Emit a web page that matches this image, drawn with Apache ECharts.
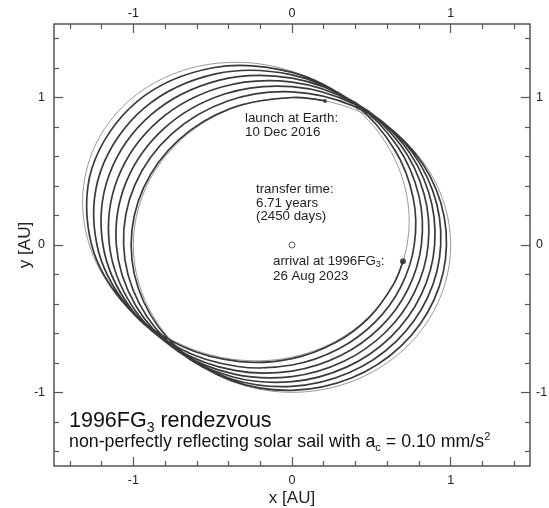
<!DOCTYPE html>
<html><head><meta charset="utf-8">
<script src="https://cdn.jsdelivr.net/npm/echarts@6/dist/echarts.min.js"></script>
<style>html,body{margin:0;padding:0;background:#fff}#c{width:549px;height:508px}</style>
</head><body><div id="c"></div>
<script>
// ---- data (AU) ----
const majorTicks = [-1, 0, 1];
const minorTicks = [-1.4, -1.2, -0.8, -0.6, -0.4, -0.2, 0.2, 0.4, 0.6, 0.8, 1.2, 1.4];

// spiral transfer trajectory
const trajX = [0.2079, 0, -0.3846, -0.7138, -0.9357, -1.0138, -0.9344, -0.7109, -0.3814, 0, 0.3741, 0.6868, 0.8957, 0.9735, 0.9088, 0.7066, 0.3899,
  0, -0.4048, -0.7561, -0.9895, -1.0614, -0.9623, -0.7176, -0.3773, 0, 0.3591, 0.6553, 0.8557, 0.9374, 0.8872, 0.7024, 0.3955,
  0, -0.4246, -0.7989, -1.0435, -1.1072, -0.9863, -0.7205, -0.3712, 0, 0.3434, 0.6233, 0.8146, 0.8989, 0.8618, 0.6944, 0.3989,
  0, -0.4441, -0.8423, -1.0978, -1.1508, -1.0060, -0.7192, -0.3632, 0, 0.3270, 0.5906, 0.7726, 0.8582, 0.8328, 0.6825, 0.4001,
  0, -0.4629, -0.8861, -1.1521, -1.1916, -1.0207, -0.7137, -0.3533, 0, 0.3100, 0.5573, 0.7296, 0.8154, 0.8003, 0.6667, 0.3990,
  0, -0.4810, -0.9304, -1.2064, -1.2292, -1.0299, -0.7038, -0.3415, 0, 0.2925, 0.5234, 0.6856, 0.7705, 0.7645, 0.6470, 0.3953,
  0, -0.4982, -0.9751, -1.2605, -1.2628, -1.0331, -0.6893, -0.3279, 0, 0.2743, 0.4889, 0.6407, 0.6994];
const trajY = [0.9781, 1.0013, 0.9286, 0.7138, 0.3876, 0, -0.3870, -0.7109, -0.9208, -0.9867, -0.9032, -0.6868, -0.3710, 0, 0.3764, 0.7066, 0.9414,
  1.0396, 0.9773, 0.7561, 0.4099, 0, -0.3986, -0.7176, -0.9108, -0.9590, -0.8669, -0.6553, -0.3544, 0, 0.3675, 0.7024, 0.9547,
  1.0747, 1.0252, 0.7989, 0.4322, 0, -0.4086, -0.7205, -0.8961, -0.9277, -0.8290, -0.6233, -0.3374, 0, 0.3570, 0.6944, 0.9630,
  1.1059, 1.0720, 0.8423, 0.4547, 0, -0.4167, -0.7192, -0.8767, -0.8932, -0.7895, -0.5906, -0.3200, 0, 0.3450, 0.6825, 0.9660,
  1.1329, 1.1175, 0.8861, 0.4772, 0, -0.4228, -0.7137, -0.8528, -0.8555, -0.7485, -0.5573, -0.3022, 0, 0.3315, 0.6667, 0.9632,
  1.1549, 1.1613, 0.9304, 0.4997, 0, -0.4266, -0.7038, -0.8245, -0.8147, -0.7060, -0.5234, -0.2840, 0, 0.3167, 0.6470, 0.9543,
  1.1712, 1.2029, 0.9751, 0.5221, 0, -0.4279, -0.6893, -0.7917, -0.7711, -0.6622, -0.4889, -0.2654, -0.1108];

// Earth orbit (closed)
const earthX = [1, 0.8660, 0.5, 0, -0.5, -0.8660, -1, -0.8660, -0.5, 0, 0.5, 0.8660];
const earthY = [0, 0.5, 0.8660, 1, 0.8660, 0.5, 0, -0.5, -0.8660, -1, -0.8660, -0.5];

// 1996FG3 orbit (closed)
const astX = [0.7250, 0.7379, 0.7081, 0.6272, 0.4861, 0.2773, 0, -0.3322, -0.6846, -1.0021, -1.2258, -1.3180, -1.2771, -1.1318, -0.9218, -0.6831, -0.4410, -0.2106, 0, 0.1871, 0.3491, 0.4854, 0.5948, 0.6757];
const astY = [0, 0.1977, 0.4088, 0.6272, 0.8420, 1.0349, 1.1790, 1.2399, 1.1858, 1.0021, 0.7078, 0.3531, 0, -0.3032, -0.5322, -0.6831, -0.7638, -0.7859, -0.7609, -0.6982, -0.6047, -0.4854, -0.3434, -0.1810];

const sunPos = [0, 0];
const launchPos = [0.2079, 0.9781];
const arrivalPos = [0.6994, -0.1108];

// ---- chart ----
const zip = (a, b) => a.map((v, i) => [v, b[i]]);
const FONT = '"Liberation Sans", Arial, sans-serif';
const TICKC = '#555';

function axis(pos, ticks, len, withLabels, margin, extra) {
  return Object.assign({
    type: 'value', min: -1.5, max: 1.5, position: pos,
    axisLine: { show: false, onZero: false }, splitLine: { show: false },
    axisTick: { show: true, inside: true, length: len, customValues: ticks, lineStyle: { color: TICKC, width: 1.2 } },
    axisLabel: withLabels
      ? { show: true, customValues: ticks, margin: margin, fontSize: 12.5, color: '#222', fontFamily: FONT }
      : { show: false }
  }, extra || {});
}
const nameStyle = { fontSize: 17, color: '#222', fontFamily: FONT };

// smooth curve through the data points, positioned by the cartesian axes (api.coord)
function curveSeries(xs, ys, closed, smooth, color, width, z) {
  return {
    type: 'custom', coordinateSystem: 'cartesian2d', xAxisIndex: 0, yAxisIndex: 0,
    data: zip(xs, ys), silent: true, z: z, clip: false,
    renderItem: function (params, api) {
      if (params.dataIndex !== 0) return null;
      const pts = xs.map((x, i) => api.coord([x, ys[i]]));
      return {
        type: closed ? 'polygon' : 'polyline',
        shape: { points: pts, smooth: smooth },
        style: { stroke: color, lineWidth: width, fill: 'none' }
      };
    }
  };
}

const chart = echarts.init(document.getElementById('c'), null, { renderer: 'canvas' });
chart.setOption({
  animation: false,
  backgroundColor: '#fff',
  grid: { left: 54, right: 19, top: 24, bottom: 42, outerBoundsMode: 'none', containLabel: false,
          show: true, borderColor: '#555', borderWidth: 1.5, backgroundColor: 'transparent' },
  xAxis: [
    axis('bottom', majorTicks, 9, true, 8, { name: 'x [AU]', nameLocation: 'middle', nameGap: 24, nameMoveOverlap: false, nameTextStyle: nameStyle }),
    axis('top', majorTicks, 9, true, 4),
    axis('bottom', minorTicks, 5, false),
    axis('top', minorTicks, 5, false)
  ],
  yAxis: [
    axis('left', majorTicks, 9, true, 9, { name: 'y [AU]', nameLocation: 'middle', nameGap: 20, nameMoveOverlap: false, nameTextStyle: nameStyle }),
    axis('right', majorTicks, 9, true, 6),
    axis('left', minorTicks, 5, false),
    axis('right', minorTicks, 5, false)
  ],
  series: [
    curveSeries(earthX, earthY, true, 0.35, '#9a9a9a', 1, 1),
    curveSeries(astX, astY, true, 0.34, '#9a9a9a', 1, 1),
    curveSeries(trajX, trajY, false, 0.34, '#3a3a3a', 1.7, 2),
    { type: 'scatter', data: [sunPos], symbol: 'circle', symbolSize: 6, itemStyle: { color: '#fff', borderColor: '#333', borderWidth: 1 }, z: 3 },
    { type: 'scatter', data: [launchPos], symbol: 'circle', symbolSize: 4, itemStyle: { color: '#333' }, z: 3 },
    { type: 'scatter', data: [arrivalPos], symbol: 'circle', symbolSize: 6, itemStyle: { color: '#222' }, z: 3 }
  ],
  graphic: [
    { type: 'text', left: 245, top: 111, style: { text: 'launch at Earth:\n10 Dec 2016', fontSize: 13.3, lineHeight: 14, fontFamily: FONT, fill: '#222' } },
    { type: 'text', left: 256, top: 183, style: { text: 'transfer time:\n6.71 years\n(2450 days)', fontSize: 13.3, lineHeight: 13.5, fontFamily: FONT, fill: '#222' } },
    { type: 'text', left: 273, top: 254, style: { text: 'arrival at 1996FG{sub|3}:\n26 Aug 2023', fontSize: 13.3, lineHeight: 15, fontFamily: FONT, fill: '#222',
        rich: { sub: { fontSize: 9, lineHeight: 9, verticalAlign: 'bottom', fontFamily: FONT, fill: '#222' } } } },
    { type: 'text', left: 69, top: 408, style: { text: '1996FG{sub|3} rendezvous', fontSize: 21.5, lineHeight: 27, fontFamily: FONT, fill: '#111',
        rich: { sub: { fontSize: 14, lineHeight: 15, verticalAlign: 'bottom', fontFamily: FONT, fill: '#111' } } } },
    { type: 'text', left: 69, top: 431, style: { text: 'non-perfectly reflecting solar sail with a{sub|c} = 0.10 mm/s{sup|2}', fontSize: 17.8, lineHeight: 22, fontFamily: FONT, fill: '#111',
        rich: { sub: { fontSize: 11, lineHeight: 11, verticalAlign: 'bottom', fontFamily: FONT, fill: '#111' },
                sup: { fontSize: 11, lineHeight: 11, verticalAlign: 'top', fontFamily: FONT, fill: '#111' } } } }
  ]
});
</script></body></html>
